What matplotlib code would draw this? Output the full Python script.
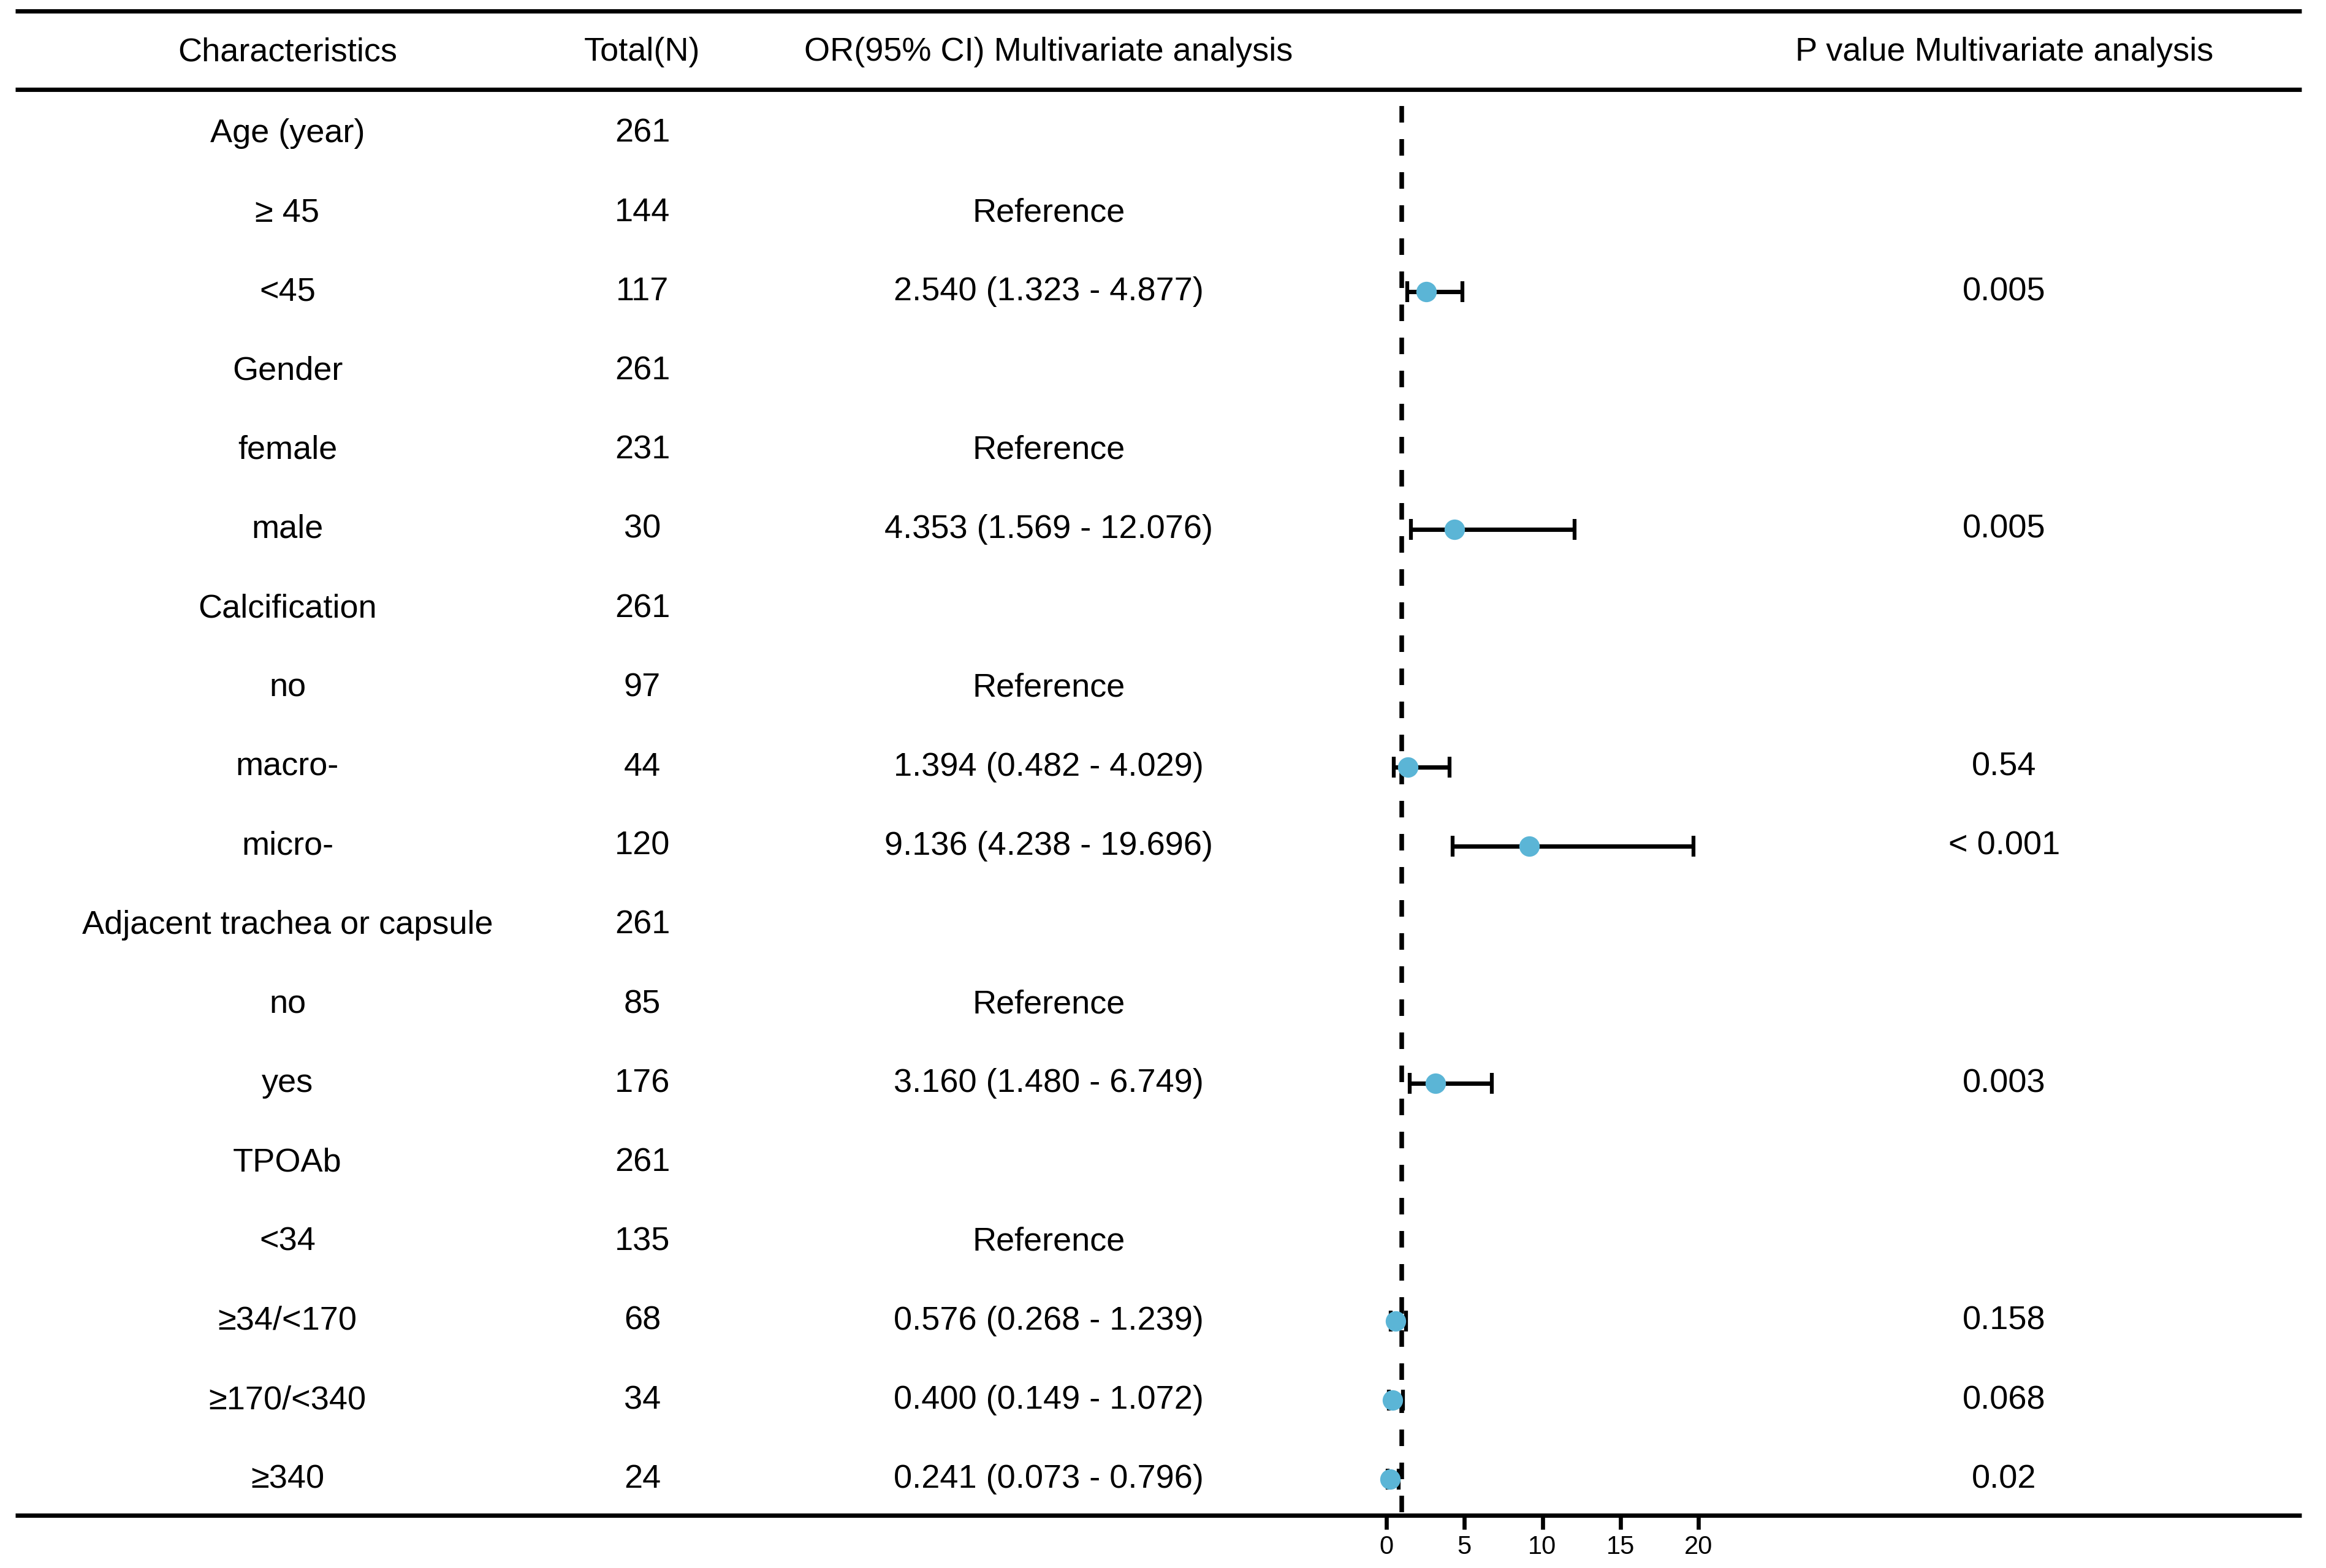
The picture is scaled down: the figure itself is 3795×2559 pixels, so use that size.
import matplotlib
matplotlib.use("Agg")
import matplotlib.pyplot as plt
import numpy as np

plt.rcParams['font.family'] = ['Liberation Sans', 'DejaVu Sans']

# ---------------- data ----------------
characteristics = ["Age (year)", "\u2265 45", "<45", "Gender", "female", "male",
                   "Calcification", "no", "macro-", "micro-",
                   "Adjacent trachea or capsule", "no", "yes", "TPOAb",
                   "<34", "\u226534/<170", "\u2265170/<340", "\u2265340"]
totals = [261, 144, 117, 261, 231, 30, 261, 97, 44, 120, 261, 85, 176, 261,
          135, 68, 34, 24]
or_text = ["", "Reference", "2.540 (1.323 - 4.877)", "", "Reference",
           "4.353 (1.569 - 12.076)", "", "Reference", "1.394 (0.482 - 4.029)",
           "9.136 (4.238 - 19.696)", "", "Reference", "3.160 (1.480 - 6.749)",
           "", "Reference", "0.576 (0.268 - 1.239)", "0.400 (0.149 - 1.072)",
           "0.241 (0.073 - 0.796)"]
or_est = [np.nan, np.nan, 2.540, np.nan, np.nan, 4.353, np.nan, np.nan, 1.394,
          9.136, np.nan, np.nan, 3.160, np.nan, np.nan, 0.576, 0.400, 0.241]
ci_low = [np.nan, np.nan, 1.323, np.nan, np.nan, 1.569, np.nan, np.nan, 0.482,
          4.238, np.nan, np.nan, 1.480, np.nan, np.nan, 0.268, 0.149, 0.073]
ci_high = [np.nan, np.nan, 4.877, np.nan, np.nan, 12.076, np.nan, np.nan, 4.029,
           19.696, np.nan, np.nan, 6.749, np.nan, np.nan, 1.239, 1.072, 0.796]
p_values = ["", "", "0.005", "", "", "0.005", "", "", "0.54", "< 0.001", "",
            "", "0.003", "", "", "0.158", "0.068", "0.02"]
headers = ["Characteristics", "Total(N)", "OR(95% CI) Multivariate analysis",
           "P value Multivariate analysis"]
xticks = [0, 5, 10, 15, 20]

# ---------------- layout (pixels) ----------------
W, H, DPI = 3795, 2559, 300
fig = plt.figure(figsize=(W / DPI, H / DPI), dpi=DPI)
tab = fig.add_axes([0, 0, 1, 1])
tab.set_xlim(0, W)
tab.set_ylim(H, 0)
tab.axis("off")

row0, drow = 218, 129.2
y_top_line, y_head_line, y_bot_line, y_head = 18, 146, 2473, 85
x_left, x_right = 25, 3755
col_char, col_total, col_or, col_p = 469, 1048, 1711, 3270
fs = 13

for yl in (y_top_line, y_head_line, y_bot_line):
    tab.plot([x_left, x_right], [yl, yl], color="black", lw=1.7,
             solid_capstyle="butt", zorder=3)

for xc, h in zip([col_char, col_total, col_or, col_p], headers):
    tab.text(xc, y_head, h, ha="center", va="center", fontsize=fs)

n = len(characteristics)
for i in range(n):
    y = row0 + i * drow
    tab.text(col_char, y, characteristics[i], ha="center", va="center", fontsize=fs)
    tab.text(col_total, y, str(totals[i]), ha="center", va="center", fontsize=fs)
    if or_text[i]:
        tab.text(col_or, y, or_text[i], ha="center", va="center", fontsize=fs)
    if p_values[i]:
        tab.text(col_p, y, p_values[i], ha="center", va="center", fontsize=fs)

# ---------------- forest axes ----------------
x0_px, px_per_unit = 2262, 25.45
ax_l, ax_r = 2100, 3000
fa = fig.add_axes([ax_l / W, 1 - y_bot_line / H, (ax_r - ax_l) / W,
                   (y_bot_line - y_head_line) / H])
fa.set_xlim((ax_l - x0_px) / px_per_unit, (ax_r - x0_px) / px_per_unit)
fa.set_ylim((y_bot_line - row0) / drow, (y_head_line - row0) / drow)
fa.patch.set_alpha(0)
for s in fa.spines.values():
    s.set_visible(False)
fa.set_yticks([])
fa.set_xticks(xticks)
fa.set_xticklabels([str(t) for t in xticks])
fa.tick_params(axis="x", direction="out", length=5.6, width=1.6,
               labelsize=10, pad=2, colors="black")

# reference line at OR = 1
fa.plot([1, 1], [(173 - row0) / drow, (y_bot_line - row0) / drow],
        color="black", lw=1.8, dashes=(3.6, 3.6), zorder=2)

rows = np.arange(n)
est = np.array(or_est)
lo = np.array(ci_low)
hi = np.array(ci_high)
m = ~np.isnan(est)
fa.errorbar(est[m], rows[m], xerr=[est[m] - lo[m], hi[m] - est[m]],
            fmt="none", ecolor="black", elinewidth=1.7, capsize=4,
            capthick=1.5, zorder=3)
fa.plot(est[m], rows[m], "o", color="#5BB5D6", markersize=8, mec="none",
        zorder=4)

fig.savefig("out.png", dpi=DPI, facecolor="white")
